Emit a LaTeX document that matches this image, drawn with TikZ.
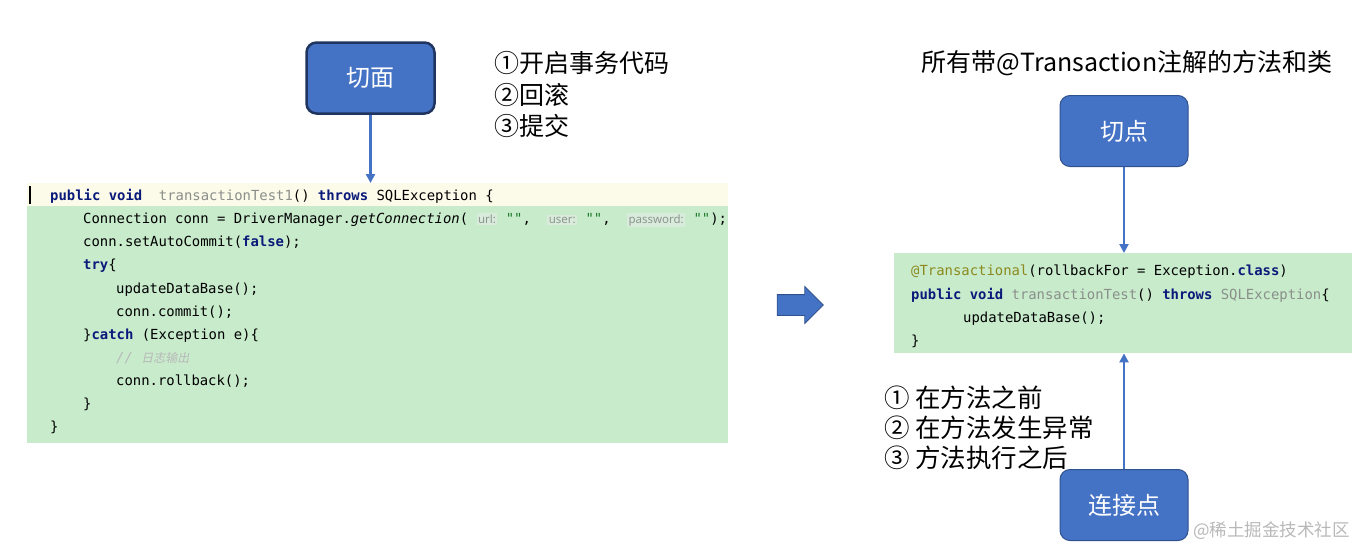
\documentclass[tikz,border=0pt]{standalone}
\usepackage{fontspec}
\usepackage{xcolor}
\setmainfont{Noto Sans CJK SC}
\newfontfamily\codefont{DejaVu Sans Mono}
\newfontfamily\hintfont{Noto Sans}
\newfontfamily\cjkslant[FakeSlant=0.2]{Noto Sans CJK SC}
\usetikzlibrary{arrows.meta, shapes.arrows, positioning}

\definecolor{boxblue}{HTML}{4472C4}
\definecolor{boxline}{HTML}{2F528F}
\definecolor{selline}{HTML}{1F3560}
\definecolor{codegreen}{HTML}{C8EBCC}
\definecolor{codeyellow}{HTML}{FCFAE9}
\definecolor{kwblue}{HTML}{0A1A7A}
\definecolor{strgreen}{HTML}{1D7A2A}
\definecolor{unusedgray}{HTML}{8A8F8A}
\definecolor{annotcol}{HTML}{8C8A1E}
\definecolor{hintbg}{HTML}{D9ECDB}
\definecolor{hintgray}{HTML}{8E948F}
\definecolor{markgray}{HTML}{B8B8B8}

\newcommand{\kw}[1]{\textcolor{kwblue}{\bfseries #1}}
\newcommand{\unused}[1]{\textcolor{unusedgray}{#1}}
\newcommand{\strlit}[1]{\textcolor{strgreen}{#1}}
\newcommand{\hint}[1]{{\setlength{\fboxsep}{1.5pt}\colorbox{hintbg}{\hintfont\fontsize{11.5}{11.5}\selectfont\textcolor{hintgray}{#1}}}}

\begin{document}
\begin{tikzpicture}[x=1pt, y=-1pt,
    concept/.style={rectangle, rounded corners=10pt, fill=boxblue, draw=boxline, line width=1pt,
      text=white, font=\fontsize{24}{24}\selectfont, minimum width=128pt, minimum height=71pt},
    codebg/.style={rectangle, fill=codegreen, inner sep=0pt, anchor=north west},
    codeline/.style={anchor=base west, inner sep=0pt, font=\codefont\fontsize{13.9}{16}\selectfont},
    note/.style={align=left, inner sep=0pt, font=\fontsize{25}{31.5}\selectfont},
    arr/.style={-{Triangle[width=9pt,length=9pt]}, line width=2.4pt, boxblue}
  ]
  \useasboundingbox (0,0) rectangle (1360,549);

  % Left part: aspect and the hand written transaction
  \node[concept, line width=2.5pt, draw=selline] (aspect) at (370.5,78) {切面};
  \node[note, anchor=west] (aspectnote) at (494,94.5) {①开启事务代码\\②回滚\\③提交};

  \node[codebg, minimum width=701pt, minimum height=260pt] (leftcode) at (27,183) {};
  \node[codebg, fill=codeyellow, minimum width=701pt, minimum height=23pt] (header) at (leftcode.north west) {};
  \draw[line width=2.5pt] (30,186) -- (30,204);

  \node[codeline] (l1) at (50,200) {\kw{public} \kw{void}\ \ \unused{transactionTest1}() \kw{throws} SQLException \{};
  \node[codeline] (l2) at (83,223) {Connection conn = DriverManager.\textit{getConnection}( \hint{url:} \strlit{""},\hspace{8pt} \hint{user:} \strlit{""},\hspace{8pt} \hint{password:} \strlit{""});};
  \node[codeline] (l3) at (83,246) {conn.setAutoCommit(\kw{false});};
  \node[codeline] (l4) at (83,269) {\kw{try}\{};
  \node[codeline] (l5) at (116,293) {updateDataBase();};
  \node[codeline] (l6) at (116,316) {conn.commit();};
  \node[codeline] (l7) at (83,339) {\}\kw{catch} (Exception e)\{};
  \node[codeline, text=markgray] (l8) at (116,362) {\textit{//} {\cjkslant\fontsize{12}{12}\selectfont 日志输出}};
  \node[codeline] (l9) at (116,385) {conn.rollback();};
  \node[codeline] (l10) at (83,408) {\}};
  \node[codeline] (l11) at (50,431) {\}};

  \draw[arr] (aspect.south) -- (aspect.south |- leftcode.north);

  % Arrow to the right
  \node[single arrow, fill=boxblue, draw=boxline, line width=0.8pt, inner xsep=0pt, inner ysep=10pt,
    minimum height=46pt, single arrow head extend=8pt] (go) at (795,305) {};

  % Right part: pointcut, annotated method, join points
  \node[note, anchor=center] (title) at (1127,63) {所有带@Transaction注解的方法和类};
  \node[concept] (pointcut) at (1124,131) {切点};

  \node[codebg, minimum width=458pt, minimum height=100pt] (rightcode) at (894,253) {};
  \node[codeline] (r1) at (911,275) {\textcolor{annotcol}{@Transactional}(rollbackFor = Exception.\kw{class})};
  \node[codeline] (r2) at (911,299) {\kw{public} \kw{void} \unused{transactionTest}() \kw{throws} \unused{SQLException}\{};
  \node[codeline] (r3) at (963,322) {updateDataBase();};
  \node[codeline] (r4) at (911,345) {\}};

  \node[concept] (joinpoint) at (1124,505) {连接点};
  \node[note, anchor=west, font=\fontsize{25.5}{30}\selectfont] (joinnote) at (884,428) {① 在方法之前\\② 在方法发生异常\\③ 方法执行之后};

  \draw[arr] (pointcut.south) -- (pointcut.south |- rightcode.north);
  \draw[arr] (joinpoint.north) -- (joinpoint.north |- rightcode.south);

  % watermark
  \node[anchor=west, inner sep=0pt, text=markgray, font=\fontsize{17.5}{17.5}\selectfont] (mark) at (1193,531) {@稀土掘金技术社区};
\end{tikzpicture}
\end{document}
